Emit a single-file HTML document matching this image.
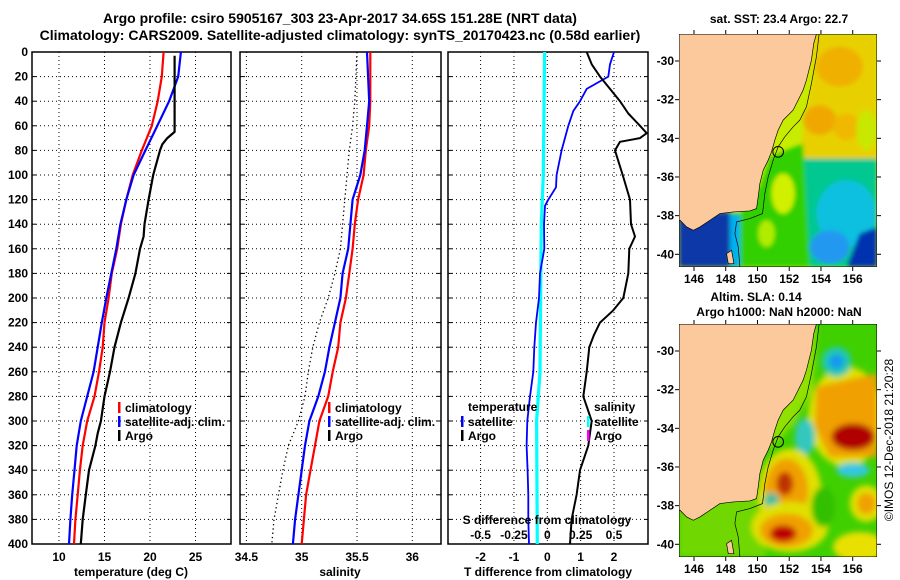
<!DOCTYPE html>
<html><head><meta charset="utf-8">
<style>
html,body{margin:0;padding:0;background:#fff;}
#root{position:relative;width:900px;height:580px;overflow:hidden;font-family:"Liberation Sans",sans-serif;}
svg text{font-family:"Liberation Sans",sans-serif;font-weight:bold;fill:#000;}
</style></head>
<body>
<div id="root">
<svg id="main" width="900" height="580" viewBox="0 0 900 580" xmlns="http://www.w3.org/2000/svg">
  <text x="340" y="23" font-size="14" text-anchor="middle">Argo profile: csiro 5905167_303 23-Apr-2017 34.65S 151.28E (NRT data)</text>
  <text x="340" y="40" font-size="14" text-anchor="middle">Climatology: CARS2009. Satellite-adjusted climatology: synTS_20170423.nc (0.58d earlier)</text>
  <g id="p1"></g>
  <g id="p2"></g>
  <g id="p3"></g>

  <!-- SST map -->
  <text x="779" y="23" font-size="12" text-anchor="middle">sat. SST: 23.4 Argo: 22.7</text>
  <svg x="679" y="34" width="198" height="233" viewBox="57 102 595 698" preserveAspectRatio="none">
    <defs><filter id="bl" x="-20%" y="-20%" width="140%" height="140%"><feGaussianBlur stdDeviation="6"/></filter>
    <filter id="bl2" x="-20%" y="-20%" width="140%" height="140%"><feGaussianBlur stdDeviation="9"/></filter></defs>
    <rect x="57" y="102" width="595" height="698" fill="#c8ec00"/>
    <g filter="url(#bl)">
      <polygon points="465,102 652,102 652,475 420,475 425,420 440,330 455,250" fill="#e8d000"/>
      <ellipse cx="540" cy="200" rx="70" ry="60" fill="#f0b000"/>
      <ellipse cx="480" cy="360" rx="50" ry="45" fill="#f0a800"/>
      <ellipse cx="560" cy="380" rx="40" ry="40" fill="#f0b800"/>
      <ellipse cx="620" cy="390" rx="30" ry="60" fill="#c8e800"/>
      <polygon points="420,475 652,475 652,800 450,800" fill="#00c890"/>
      <polygon points="330,470 430,430 450,800 240,800 240,640 300,560" fill="#30d000"/>
      <ellipse cx="370" cy="580" rx="35" ry="60" fill="#d0f000"/>
      <ellipse cx="320" cy="700" rx="25" ry="40" fill="#b0ec00"/>
      <ellipse cx="560" cy="640" rx="90" ry="100" fill="#10c0e0"/>
      <ellipse cx="510" cy="740" rx="60" ry="50" fill="#2098f0"/>
      <polygon points="600,700 652,680 652,800 560,800" fill="#0030b0"/>
      <polygon points="57,640 210,635 210,800 57,800" fill="#0838a8"/>
      <rect x="210" y="640" width="30" height="160" fill="#00b0f0"/>
    </g>
    <polygon points="57,102 470,102 462,130 455,180 440,240 430,270 415,300 400,330 385,345 370,360 355,390 345,420 335,455 325,480 310,510 300,550 295,590 290,625 270,632 220,635 180,640 150,660 120,680 100,690 80,680 60,660 57,660" fill="#fbc99b" stroke="#000" stroke-width="2"/>
    <polygon points="200,760 215,750 222,790 205,790" fill="#fbc99b" stroke="#000" stroke-width="2"/>
    <polyline points="478,102 470,170 455,250 440,320 420,360 400,380 375,410 355,440 340,480 325,530 315,580 308,640 270,655 230,665 225,700 235,740 240,800" fill="none" stroke="#000" stroke-width="2"/>
    <circle cx="355" cy="455" r="16" fill="none" stroke="#000" stroke-width="3"/>
    <rect x="57" y="102" width="595" height="698" fill="none" stroke="#000" stroke-width="3"/>
  </svg>
  <g id="m1ax"></g>

  <!-- SLA map -->
  <text x="756" y="301" font-size="12" text-anchor="middle">Altim. SLA: 0.14</text>
  <text x="779" y="316" font-size="12" text-anchor="middle">Argo h1000: NaN h2000: NaN</text>
  <svg x="679" y="324" width="198" height="233" viewBox="57 102 595 698" preserveAspectRatio="none">
    <rect x="57" y="102" width="595" height="698" fill="#40d000"/>
    <g filter="url(#bl2)">
      <rect x="57" y="600" width="260" height="200" fill="#70d800"/>
      <polygon points="300,300 470,102 460,300 400,400 330,480" fill="#90e000"/>
      <ellipse cx="560" cy="380" rx="115" ry="150" fill="#e0e000"/>
      <polygon points="470,290 652,250 652,500 510,500 465,410" fill="#f0a000"/>
      <ellipse cx="580" cy="440" rx="65" ry="40" fill="#b00000"/>
      <ellipse cx="530" cy="215" rx="45" ry="45" fill="#20c8b0"/>
      <ellipse cx="530" cy="215" rx="22" ry="22" fill="#1898f0"/>
      <ellipse cx="435" cy="440" rx="30" ry="55" fill="#30c8c0"/>
      <ellipse cx="580" cy="540" rx="50" ry="22" fill="#30c8e0"/>
      <ellipse cx="390" cy="610" rx="95" ry="135" fill="#e0e000"/>
      <ellipse cx="380" cy="600" rx="65" ry="95" fill="#f0a000"/>
      <ellipse cx="375" cy="580" rx="25" ry="35" fill="#c03000"/>
      <ellipse cx="335" cy="630" rx="22" ry="22" fill="#40c0a0"/>
      <ellipse cx="390" cy="710" rx="115" ry="75" fill="#e0e000"/>
      <ellipse cx="380" cy="720" rx="80" ry="50" fill="#f0a000"/>
      <ellipse cx="370" cy="730" rx="40" ry="25" fill="#c00000"/>
      <ellipse cx="620" cy="640" rx="50" ry="55" fill="#e0e000"/>
      <ellipse cx="620" cy="640" rx="28" ry="32" fill="#f0a000"/>
      <ellipse cx="600" cy="770" rx="80" ry="45" fill="#e8e000"/>
      <ellipse cx="490" cy="650" rx="35" ry="60" fill="#30c000"/>
    </g>
    <polygon points="57,102 470,102 462,130 455,180 440,240 430,270 415,300 400,330 385,345 370,360 355,390 345,420 335,455 325,480 310,510 300,550 295,590 290,625 270,632 220,635 180,640 150,660 120,680 100,690 80,680 60,660 57,660" fill="#fbc99b" stroke="#000" stroke-width="2"/>
    <polygon points="200,760 215,750 222,790 205,790" fill="#fbc99b" stroke="#000" stroke-width="2"/>
    <polyline points="478,102 470,170 455,250 440,320 420,360 400,380 375,410 355,440 340,480 325,530 315,580 308,640 270,655 230,665 225,700 235,740 240,800" fill="none" stroke="#000" stroke-width="2"/>
    <circle cx="355" cy="455" r="16" fill="none" stroke="#000" stroke-width="3"/>
    <rect x="57" y="102" width="595" height="698" fill="none" stroke="#000" stroke-width="3"/>
  </svg>
  <g id="m2ax"></g>
  <text transform="translate(893,440) rotate(-90)" font-size="12" style="font-weight:normal" text-anchor="middle">©IMOS 12-Dec-2018 21:20:28</text>
</svg>
</div>
<script>
// ---- data ----
const depths = [0,20,40,60,80,100,120,140,160,180,200,220,240,260,280,300,320,340,360,380,400];
const tempClim = [21.5,21.3,20.85,20.2,19.1,18.1,17.4,16.8,16.4,15.8,15.45,15.0,14.8,14.4,13.9,13.1,12.6,12.3,12.05,11.8,11.65];
const tempSat = [23.4,23.1,22.1,20.8,19.5,18.2,17.4,16.75,16.3,15.75,15.2,14.7,14.25,13.8,13.1,12.4,11.95,11.7,11.45,11.25,11.1];
const argoDepths = [3,65,70,75,80,100,120,140,150,160,180,200,220,240,260,280,300,310,320,340,360,380,400];
const argoTemp = [22.7,22.7,21.9,21.35,21.1,20.35,19.85,19.4,19.3,18.9,18.4,17.65,16.8,16.1,15.6,15.0,14.6,14.25,14.0,13.3,12.95,12.6,12.4];
const salClim = [35.62,35.62,35.62,35.61,35.58,35.56,35.51,35.48,35.46,35.43,35.40,35.35,35.33,35.28,35.24,35.16,35.12,35.08,35.04,35.02,35.0];
const salSat = [35.59,35.60,35.61,35.59,35.57,35.53,35.46,35.44,35.42,35.37,35.35,35.30,35.25,35.21,35.15,35.07,35.03,35.0,34.97,34.94,34.92];
const argoSal = [35.5,35.49,35.48,35.46,35.43,35.41,35.39,35.37,35.35,35.30,35.24,35.16,35.10,35.06,35.03,34.97,34.88,34.83,34.79,34.75,34.73];
const diffTSatDepths = [0,10,20,30,40,48,60,80,100,110,120,125,140,160,180,200,220,240,260,280,300,320,340,360,380,400];
const diffTSat = [2.0,1.88,1.83,1.18,0.98,0.78,0.63,0.43,0.28,0.26,0.03,-0.07,-0.1,-0.09,-0.22,-0.25,-0.34,-0.39,-0.42,-0.52,-0.6,-0.62,-0.59,-0.57,-0.57,-0.55];
const diffSSatDepths = [0,100,140,200,260,300,400];
const diffSSat = [-0.02,-0.03,-0.045,-0.05,-0.055,-0.08,-0.075];
const diffTArgoDepths = [0,10,20,30,40,50,60,66,70,73,80,100,120,140,150,160,180,200,210,220,230,240,260,280,300,310,320,340,360,380,400];
const diffTArgo = [1.18,1.33,1.58,1.88,2.18,2.43,2.78,2.98,2.78,2.18,2.03,2.26,2.48,2.51,2.63,2.46,2.43,2.28,1.98,1.58,1.4,1.26,1.18,1.08,1.33,1.28,1.23,0.98,0.88,0.73,0.68];
const depthTicks = [0,20,40,60,80,100,120,140,160,180,200,220,240,260,280,300,320,340,360,380,400];
const tempTicks = [10,15,20,25];
const salTicks = [34.5,35,35.5,36];
const salTickLabels = ["34.5","35","35.5","36"];
const diffTTicks = [-2,-1,0,1,2];
const diffSTicks = [-0.5,-0.25,0,0.25,0.5];
const diffSTickLabels = ["-0.5","-0.25","0","0.25","0.5"];
const lonTicks = [146,148,150,152,154,156];
const latTicks = [-30,-32,-34,-36,-38,-40];

const NS = "http://www.w3.org/2000/svg";
function mk(parent, tag, attrs, txt){ const e=document.createElementNS(NS,tag); for(const k in attrs) e.setAttribute(k,attrs[k]); if(txt!==undefined) e.textContent=txt; parent.appendChild(e); return e; }
const Y0=52, Y1=544;
const yD = d => Y0 + (d/400)*(Y1-Y0);
function scaleX(x0,x1,v0,v1){ return v => x0 + (v-v0)/(v1-v0)*(x1-x0); }

function panel(g, x0, x1, xs, ticks, labels, showY, title, titleX){
  mk(g,'rect',{x:x0,y:Y0,width:x1-x0,height:Y1-Y0,fill:'#fff'});
  depthTicks.forEach(d=>{
    if(d>0&&d<400){ const l=mk(g,'line',{x1:x0,x2:x1,y1:yD(d),y2:yD(d),stroke:'#000','stroke-width':1,'stroke-dasharray':'1,3'});   }
    mk(g,'line',{x1:x0,x2:x0+4,y1:yD(d),y2:yD(d),stroke:'#000','stroke-width':1});
    mk(g,'line',{x1:x1-4,x2:x1,y1:yD(d),y2:yD(d),stroke:'#000','stroke-width':1});
    if(showY){ const t=mk(g,'text',{x:x0-4,y:yD(d)+4,'font-size':12,'text-anchor':'end'},String(d));   }
  });
  ticks.forEach((v,i)=>{
    const x=xs(v);
    const l=mk(g,'line',{x1:x,x2:x,y1:Y0,y2:Y1,stroke:'#000','stroke-width':1,'stroke-dasharray':'1,3'});
     
    if(labels){ const t=mk(g,'text',{x:x,y:561,'font-size':12,'text-anchor':'middle'},labels[i]);   }
  });
  const r=mk(g,'rect',{x:x0,y:Y0,width:x1-x0,height:Y1-Y0,fill:'none',stroke:'#000','stroke-width':1.5});
   
  const tt=mk(g,'text',{x:titleX,y:576,'font-size':12,'text-anchor':'middle'},title);
   
}
function line(g, xs, vals, ds, color, w, dash, name){
  const pts = vals.map((v,i)=>xs(v).toFixed(1)+','+yD(ds[i]).toFixed(1)).join(' ');
  const attrs={points:pts,fill:'none',stroke:color,'stroke-width':w,'stroke-linejoin':'round'};
  if(dash) attrs['stroke-dasharray']=dash;
  const p=mk(g,'polyline',attrs);
  
  
}
function legend(g, x, y, items){
  items.forEach((it,i)=>{
    const yy=y+i*14;
    mk(g,'rect',{x:x,y:yy-9,width:2.5,height:11,fill:it[1]});
    const t=mk(g,'text',{x:x+7,y:yy+1,'font-size':12},it[0]);
     
  });
}

// Panel 1
const p1=document.getElementById('p1');
const xT = scaleX(59,150,10,20);
panel(p1,32,231,xT,tempTicks,tempTicks.map(String),true,'temperature (deg C)',131);
line(p1,xT,tempClim,depths,'#ff0000',2.2,null,'temp-climatology-line');
line(p1,xT,tempSat,depths,'#0000ff',2.2,null,'temp-satellite-line');
line(p1,xT,argoTemp,argoDepths,'#000',2.2,null,'temp-argo-line');
legend(p1,118,411,[['climatology','#ff0000'],['satellite-adj. clim.','#0000ff'],['Argo','#000']]);

// Panel 2
const p2=document.getElementById('p2');
const xS = scaleX(301.7,357,35,35.5);
panel(p2,240,441,xS,salTicks,salTickLabels,false,'salinity',340);
line(p2,xS,argoSal,depths,'#000',1.3,'1.3,3','sal-argo-line');
line(p2,xS,salClim,depths,'#ff0000',2.2,null,'sal-climatology-line');
line(p2,xS,salSat,depths,'#0000ff',2.2,null,'sal-satellite-line');
legend(p2,328,411,[['climatology','#ff0000'],['satellite-adj. clim.','#0000ff'],['Argo','#000']]);

// Panel 3
const p3=document.getElementById('p3');
const xD = scaleX(547.3,614,0,2);
const xDS = v => xD(v*4);
panel(p3,448,648,xD,diffTTicks,diffTTicks.map(String),false,'T difference from climatology',548);
line(p3,xDS,diffSSat,diffSSatDepths,'#00ffff',3.2,null,'sdiff-satellite-line');
line(p3,xD,diffTSat,diffTSatDepths,'#0000ff',1.8,null,'tdiff-satellite-line');
line(p3,xD,diffTArgo,diffTArgoDepths,'#000',2,null,'tdiff-argo-line');
{ const t=mk(p3,'text',{x:468,y:411,'font-size':12},'temperature');   }
legend(p3,461,425,[['satellite','#0000ff'],['Argo','#000']]);
{ const t=mk(p3,'text',{x:594,y:411,'font-size':12},'salinity');   }
legend(p3,587,425,[['satellite','#00ffff'],['Argo','#ff00ff']]);
{ const t=mk(p3,'text',{x:547,y:524,'font-size':12,'text-anchor':'middle'},'S difference from climatology');   }
diffSTicks.forEach((v,i)=>{
  const t=mk(p3,'text',{x:xDS(v),y:539,'font-size':12,'text-anchor':'middle'},diffSTickLabels[i]);
   
});

// Map axes
function mapAxes(gid, top, bottom){
  const g=document.getElementById(gid);
  const L=679,R=877;
  const lonX = lon => 694 + (lon-146)*(852.7-694)/10;
  const latY = lat => top + 27 + (-30-lat)*(193.3/10);
  lonTicks.forEach(lon=>{
    const x=lonX(lon);
    mk(g,'line',{x1:x,x2:x,y1:top-4,y2:top,stroke:'#000','stroke-width':1});
    mk(g,'line',{x1:x,x2:x,y1:bottom,y2:bottom+4,stroke:'#000','stroke-width':1});
    const t=mk(g,'text',{x:x,y:bottom+16,'font-size':12,'text-anchor':'middle'},String(lon));
     
  });
  latTicks.forEach(lat=>{
    const y=latY(lat);
    mk(g,'line',{x1:L-4,x2:L,y1:y,y2:y,stroke:'#000','stroke-width':1});
    mk(g,'line',{x1:R,x2:R+4,y1:y,y2:y,stroke:'#000','stroke-width':1});
    const t=mk(g,'text',{x:L-5,y:y+4,'font-size':12,'text-anchor':'end'},String(lat));
     
  });
}
mapAxes('m1ax',34,267);
mapAxes('m2ax',324,557);
</script>
</body></html>
